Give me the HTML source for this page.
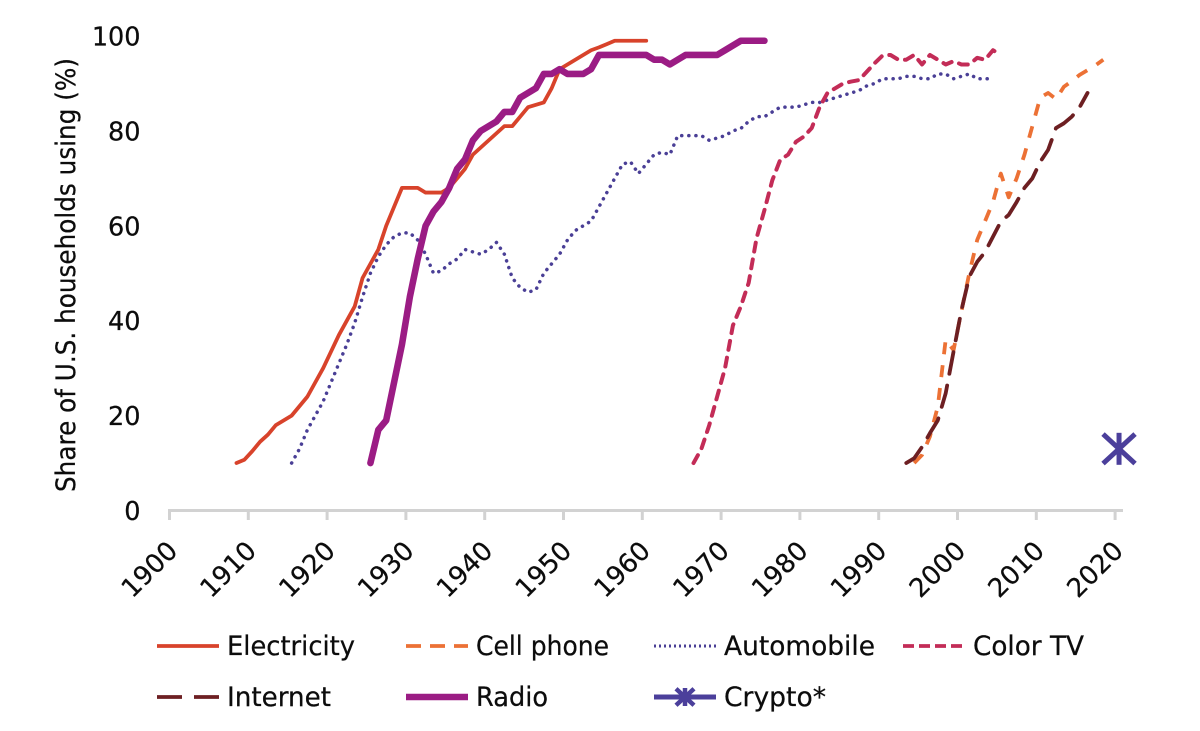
<!DOCTYPE html>
<html lang="en">
<head>
<meta charset="utf-8">
<title>Share of U.S. households using technologies</title>
<style>
html,body{margin:0;padding:0;background:#fff;}
svg{display:block;filter:blur(0.35px);}
text{font-family:"DejaVu Sans","Liberation Sans",sans-serif;fill:#0c0c0c;stroke:#0c0c0c;stroke-width:0.25px;}
</style>
</head>
<body>
<svg id="chart" xmlns="http://www.w3.org/2000/svg" width="1200" height="731" viewBox="0 0 1200 731">
  <rect width="1200" height="731" fill="#fff"/>
  <text transform="translate(75,492) rotate(-90)" font-size="27" textLength="434" lengthAdjust="spacingAndGlyphs">Share of U.S. households using (%)</text>
  <g id="axes"></g>
  <g id="series"></g>
  <g id="legend"></g>
</svg>
<script>
const yTicks = [0, 20, 40, 60, 80, 100];
const xTicks = [1900, 1910, 1920, 1930, 1940, 1950, 1960, 1970, 1980, 1990, 2000, 2010, 2020];

const electricityStart = 1908;
const electricityValues = [10,10.7,12.5,14.5,16,18,19,20,22,24,27,30,33.5,37,40,43,49,52,55,60,64,68,68,68,67,67,67,68,70,72,75,76.5,78,79.5,81,81,83,85,85.5,86,89,93,94,95,96,97,97.6,98.3,99,99,99,99,99];

const cellPhoneStart = 1994;
const cellPhoneValues = [10,11.7,15.6,21.9,36,33.8,42,50,57,61,65,71,66,70,75,81,87,88,86.7,89.3,90.5,91.8,92.8,93.8,95];

const automobileStart = 1915;
const automobileValues = [10,13,17,20,23,27,31,35,39.5,45,50,53.5,56,57.7,58.5,58.5,57,54,50,50.5,52,53,55,54.5,54,55,56.5,54,49,47,46,46.5,50,52,54,57,59,60,61,64,67,70,73,73.5,71,73,75,75.5,75,79,79,79,79,78,78.5,79,80,80.5,82,83,83,84,85,85,85,85.5,86,86,86.5,87,87.5,88,88.5,89.5,90,91,91,91,91.5,91.5,91,91,92,92,91,91.5,92,91,91,91];

const colorTvStart = 1966;
const colorTvValues = [10,13,18,24,30,39,43,48,57.4,63.3,69.6,73.9,75,77.7,78.8,80.6,85,88,89,90,90.4,90.7,92.5,94.3,95.9,96,95,95,96,94,96,95,94,94.7,94,94,95.4,95,97,96];

const internetStart = 1993;
const internetValues = [10,11,13.4,16.3,19,24.7,33.5,42.2,49.3,52.4,54.5,57.7,60.9,62.3,65,68,70,73.5,76,80.6,81.6,83,85,88];

const radioStart = 1925;
const radioValues = [10,17,19,27,35,45,53,60,63,65,68,72,74,78,80,81,82,84,84,87,88,89,92,92,93,92,92,92,93,96,96,96,96,96,96,96,95,95,94,95,96,96,96,96,96,97,98,99,99,99,99];

const cryptoYear = 2020;
const cryptoValue = 13;

const SVGNS = 'http://www.w3.org/2000/svg';
function xScale(year) { return 169.5 + (year - 1900) * 7.88; }
function xData(year) { return xScale(year + 0.5); }
function yScale(value) { return 510.5 - value * 4.745; }
function make(tag, attrs, parent) {
  const el = document.createElementNS(SVGNS, tag);
  for (const k in attrs) el.setAttribute(k, attrs[k]);
  parent.appendChild(el);
  return el;
}
const axes = document.getElementById('axes');
const seriesGroup = document.getElementById('series');
const legend = document.getElementById('legend');

/* axes */
const axisLine = make('line', {x1: xScale(1900) - 1.5, x2: xScale(2021), y1: 510.5, y2: 510.5, stroke: '#d2d2d2', 'stroke-width': 3}, axes);



xTicks.forEach(function (year) {
  const tick = make('line', {x1: xScale(year), x2: xScale(year), y1: 510, y2: 520, stroke: '#d2d2d2', 'stroke-width': 3}, axes);
  
  
  const cx = xScale(year) - 19.5;
  const label = make('text', {x: cx, y: 570, 'font-size': 26, 'text-anchor': 'middle', 'dominant-baseline': 'central', transform: 'rotate(-45 ' + cx + ' 570)'}, axes);
  label.textContent = year;
  
  
});

yTicks.forEach(function (v) {
  const label = make('text', {x: 140.5, y: yScale(v) + 9.5, 'font-size': 25.5, 'text-anchor': 'end'}, axes);
  label.textContent = v;
  
  
});

/* series */
function drawSeries(name, start, values, color, width, dash, cap) {
  const pts = values.map(function (v, i) { return xData(start + i).toFixed(2) + ',' + yScale(v).toFixed(2); }).join(' ');
  const line = make('polyline', {points: pts, fill: 'none', stroke: color, 'stroke-width': width, 'stroke-linejoin': 'round', 'stroke-linecap': cap}, seriesGroup);
  if (dash) line.setAttribute('stroke-dasharray', dash);
  
  
}
const cElectric = '#d8432b', cCell = '#ec7135', cAuto = '#4a3f96', cTv = '#c32c57', cNet = '#6d1f22', cRadio = '#9b1c84', cCrypto = '#4b3f9b';

drawSeries('automobile', automobileStart, automobileValues, cAuto, 3.5, '0.1 7', 'round');
drawSeries('color-tv', colorTvStart, colorTvValues, cTv, 4, '9 8', 'round');
drawSeries('electricity', electricityStart, electricityValues, cElectric, 3.8, '', 'round');
drawSeries('cell-phone', cellPhoneStart, cellPhoneValues, cCell, 3.8, '12 11', 'butt');
drawSeries('internet', internetStart, internetValues, cNet, 3.8, '22 12', 'round');
drawSeries('radio', radioStart, radioValues, cRadio, 6.6, '', 'round');

function drawStar(cx, cy, r, w, parent, name) {
  const g = make('g', {stroke: cCrypto, 'stroke-width': w, fill: 'none'}, parent);
  
  
  make('line', {x1: cx, x2: cx, y1: cy - r, y2: cy + r}, g);
  make('line', {x1: cx - r, x2: cx + r, y1: cy - r * 0.92, y2: cy + r * 0.92}, g);
  make('line', {x1: cx - r, x2: cx + r, y1: cy + r * 0.92, y2: cy - r * 0.92}, g);
}
drawStar(xData(cryptoYear), yScale(cryptoValue), 16, 5, seriesGroup, 'crypto-marker');

/* legend */
function legendItem(name, label, x0, rowY, color, width, dash, cap, textW) {
  const g = make('g', {}, legend);
  
  
  const s = make('line', {x1: x0, x2: x0 + 62, y1: rowY, y2: rowY, stroke: color, 'stroke-width': width, 'stroke-linecap': cap}, g);
  if (dash) s.setAttribute('stroke-dasharray', dash);
  
  
  const t = make('text', {x: x0 + 70, y: rowY + 9, 'font-size': 27, textLength: textW, lengthAdjust: 'spacingAndGlyphs'}, g);
  t.textContent = label;
  
  
}
legendItem('electricity', 'Electricity', 157, 646, cElectric, 3.8, '', 'butt', 128);
legendItem('cell-phone', 'Cell phone', 406, 646, cCell, 3.8, '15 9', 'butt', 133);
legendItem('automobile', 'Automobile', 654, 646, cAuto, 3, '2 3', 'butt', 151);
legendItem('color-tv', 'Color TV', 903, 646, cTv, 3.8, '11 5', 'butt', 111);
legendItem('internet', 'Internet', 157, 697, cNet, 3.8, '25 12', 'butt', 104);
legendItem('radio', 'Radio', 406, 697, cRadio, 6.6, '', 'butt', 72);
legendItem('crypto', 'Crypto*', 654, 697, cCrypto, 5, '', 'butt', 102);
drawStar(685, 697, 9, 4.5, legend, 'legend-crypto-marker');
</script>
</body>
</html>
